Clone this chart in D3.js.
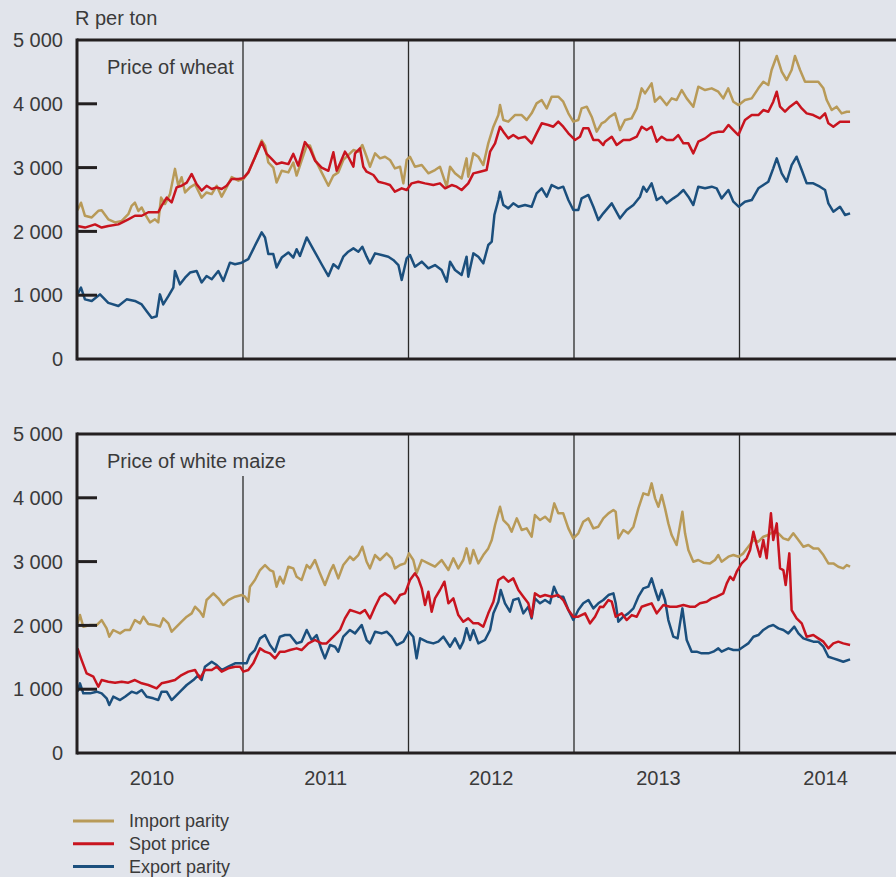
<!DOCTYPE html>
<head>
  <meta charset="UTF-8">
  <title>Wheat and white maize prices</title>
  <style>
  body, html, svg{
    padding: 0;
    margin: 0;
  }
  body{
    background: #e1e4eb;
  }
  svg{
    display: block;
  }
  text{
    font-family: "Liberation Sans", Arial, sans-serif;
    fill: #3a3a3a;
  }
  </style>
</head>
<body>
  <script src="https://cdn.jsdelivr.net/npm/d3@7/dist/d3.min.js"></script>
  <script type="text/javascript">
  // 数据: [decimal year, R per ton]
  var wheatImport = [[2010.000,2330],[2010.021,2450],[2010.045,2245],[2010.086,2218],[2010.126,2323],[2010.146,2330],[2010.186,2190],[2010.227,2140],[2010.267,2165],[2010.307,2270],[2010.327,2400],[2010.347,2450],[2010.368,2320],[2010.388,2375],[2010.408,2270],[2010.438,2140],[2010.468,2190],[2010.488,2140],[2010.505,2530],[2010.529,2430],[2010.559,2585],[2010.589,2980],[2010.609,2715],[2010.629,2850],[2010.650,2610],[2010.680,2690],[2010.710,2740],[2010.750,2530],[2010.780,2610],[2010.811,2585],[2010.841,2715],[2010.871,2545],[2010.901,2690],[2010.932,2850],[2010.972,2795],[2011.002,2820],[2011.032,2925],[2011.072,3160],[2011.113,3425],[2011.133,3345],[2011.153,3080],[2011.183,3000],[2011.203,2765],[2011.234,2950],[2011.274,2925],[2011.304,3080],[2011.324,2875],[2011.354,3110],[2011.385,3345],[2011.405,3345],[2011.435,3130],[2011.475,2925],[2011.516,2715],[2011.546,2875],[2011.576,2925],[2011.606,3120],[2011.636,3197],[2011.667,3275],[2011.697,3250],[2011.721,3354],[2011.747,3170],[2011.767,3014],[2011.798,3223],[2011.828,3145],[2011.858,3170],[2011.888,3120],[2011.918,2988],[2011.949,3014],[2011.969,2753],[2011.989,3120],[2012.009,3170],[2012.039,3014],[2012.080,3040],[2012.120,2910],[2012.160,2962],[2012.190,3014],[2012.231,2700],[2012.251,3014],[2012.281,2910],[2012.321,2830],[2012.351,3145],[2012.361,2857],[2012.392,3223],[2012.422,3170],[2012.452,3040],[2012.482,3380],[2012.513,3641],[2012.543,3824],[2012.553,3980],[2012.573,3746],[2012.603,3720],[2012.643,3824],[2012.684,3824],[2012.714,3746],[2012.744,3850],[2012.774,4007],[2012.805,4059],[2012.835,3928],[2012.865,4111],[2012.905,4111],[2012.935,4033],[2012.966,3850],[2012.996,3720],[2013.026,3746],[2013.046,3928],[2013.077,3955],[2013.107,3798],[2013.137,3563],[2013.167,3694],[2013.187,3720],[2013.217,3798],[2013.248,3850],[2013.278,3589],[2013.308,3746],[2013.348,3772],[2013.379,3928],[2013.409,4242],[2013.429,4164],[2013.469,4320],[2013.489,4033],[2013.520,4111],[2013.560,3980],[2013.590,4085],[2013.620,4059],[2013.651,4216],[2013.681,4085],[2013.721,3955],[2013.751,4268],[2013.792,4216],[2013.832,4242],[2013.872,4190],[2013.902,4085],[2013.932,4242],[2013.963,4033],[2013.995,3980],[2014.033,4059],[2014.074,4085],[2014.114,4242],[2014.144,4346],[2014.174,4294],[2014.194,4529],[2014.225,4750],[2014.255,4503],[2014.285,4373],[2014.315,4529],[2014.335,4750],[2014.366,4529],[2014.396,4346],[2014.436,4346],[2014.476,4346],[2014.507,4242],[2014.527,4059],[2014.557,3902],[2014.587,3955],[2014.617,3850],[2014.648,3876],[2014.668,3876]];

  var wheatSpot = [[2010.000,2085],[2010.045,2060],[2010.106,2110],[2010.146,2060],[2010.186,2085],[2010.247,2110],[2010.307,2190],[2010.347,2245],[2010.388,2245],[2010.428,2300],[2010.488,2300],[2010.508,2400],[2010.539,2530],[2010.569,2455],[2010.599,2690],[2010.629,2715],[2010.660,2765],[2010.690,2900],[2010.720,2740],[2010.750,2640],[2010.780,2715],[2010.811,2665],[2010.841,2690],[2010.871,2665],[2010.901,2715],[2010.932,2820],[2010.972,2820],[2011.002,2835],[2011.032,2925],[2011.072,3160],[2011.113,3400],[2011.143,3215],[2011.173,3135],[2011.203,3055],[2011.234,3080],[2011.274,3055],[2011.304,3215],[2011.334,3030],[2011.374,3400],[2011.405,3295],[2011.435,3110],[2011.475,3000],[2011.516,2950],[2011.546,3240],[2011.566,2950],[2011.586,3066],[2011.616,3250],[2011.636,3170],[2011.667,3014],[2011.677,3223],[2011.707,3302],[2011.727,3014],[2011.747,2936],[2011.788,2884],[2011.818,2779],[2011.858,2753],[2011.888,2727],[2011.918,2623],[2011.959,2675],[2011.989,2649],[2012.019,2753],[2012.059,2779],[2012.100,2753],[2012.150,2727],[2012.190,2753],[2012.221,2675],[2012.261,2727],[2012.291,2701],[2012.321,2649],[2012.361,2753],[2012.392,2910],[2012.432,2936],[2012.472,2962],[2012.493,3250],[2012.523,3380],[2012.553,3641],[2012.573,3563],[2012.603,3458],[2012.633,3510],[2012.664,3458],[2012.704,3484],[2012.744,3380],[2012.774,3537],[2012.805,3694],[2012.845,3668],[2012.875,3641],[2012.905,3720],[2012.935,3641],[2012.966,3537],[2013.006,3433],[2013.036,3484],[2013.056,3615],[2013.087,3615],[2013.117,3433],[2013.147,3433],[2013.177,3354],[2013.187,3406],[2013.228,3484],[2013.258,3354],[2013.298,3433],[2013.338,3433],[2013.379,3484],[2013.409,3641],[2013.439,3589],[2013.469,3641],[2013.500,3406],[2013.530,3484],[2013.560,3433],[2013.600,3433],[2013.630,3510],[2013.661,3380],[2013.691,3380],[2013.721,3223],[2013.751,3406],[2013.792,3458],[2013.832,3537],[2013.872,3563],[2013.902,3563],[2013.933,3668],[2013.963,3589],[2013.993,3510],[2014.033,3746],[2014.074,3824],[2014.114,3824],[2014.144,3902],[2014.174,3876],[2014.204,4033],[2014.225,4190],[2014.245,3955],[2014.275,3876],[2014.305,3955],[2014.345,4033],[2014.376,3928],[2014.406,3850],[2014.446,3824],[2014.486,3772],[2014.517,3850],[2014.537,3694],[2014.567,3641],[2014.607,3720],[2014.638,3720],[2014.668,3720]];

  var wheatExport = [[2010.000,1013],[2010.021,1120],[2010.045,935],[2010.086,910],[2010.136,1013],[2010.186,880],[2010.247,830],[2010.297,935],[2010.347,910],[2010.388,855],[2010.418,750],[2010.448,645],[2010.478,670],[2010.498,1013],[2010.518,855],[2010.549,985],[2010.579,1120],[2010.589,1380],[2010.619,1170],[2010.650,1275],[2010.680,1355],[2010.720,1380],[2010.750,1200],[2010.780,1300],[2010.811,1250],[2010.851,1380],[2010.881,1225],[2010.921,1510],[2010.952,1485],[2010.992,1510],[2011.032,1565],[2011.072,1775],[2011.113,1985],[2011.133,1905],[2011.153,1645],[2011.183,1645],[2011.203,1435],[2011.234,1590],[2011.274,1670],[2011.304,1590],[2011.324,1720],[2011.344,1615],[2011.385,1905],[2011.425,1720],[2011.475,1485],[2011.516,1300],[2011.546,1485],[2011.576,1421],[2011.606,1604],[2011.636,1682],[2011.667,1734],[2011.697,1682],[2011.721,1760],[2011.747,1604],[2011.767,1499],[2011.798,1656],[2011.838,1630],[2011.878,1604],[2011.908,1552],[2011.939,1473],[2011.959,1238],[2011.989,1578],[2012.009,1630],[2012.039,1447],[2012.080,1526],[2012.120,1421],[2012.160,1473],[2012.200,1395],[2012.231,1212],[2012.251,1526],[2012.281,1395],[2012.321,1317],[2012.351,1604],[2012.361,1290],[2012.392,1656],[2012.422,1604],[2012.452,1499],[2012.482,1787],[2012.503,1839],[2012.519,2257],[2012.543,2492],[2012.553,2623],[2012.573,2414],[2012.603,2361],[2012.633,2440],[2012.664,2387],[2012.704,2414],[2012.744,2387],[2012.774,2597],[2012.805,2675],[2012.835,2544],[2012.865,2727],[2012.905,2675],[2012.935,2701],[2012.966,2492],[2012.996,2335],[2013.026,2335],[2013.046,2518],[2013.087,2571],[2013.117,2387],[2013.147,2178],[2013.177,2283],[2013.228,2440],[2013.278,2205],[2013.318,2335],[2013.359,2414],[2013.399,2544],[2013.419,2701],[2013.439,2623],[2013.469,2753],[2013.500,2492],[2013.530,2544],[2013.560,2440],[2013.600,2518],[2013.630,2571],[2013.661,2649],[2013.691,2544],[2013.721,2414],[2013.751,2701],[2013.792,2675],[2013.832,2701],[2013.862,2675],[2013.892,2518],[2013.933,2649],[2013.963,2466],[2013.995,2387],[2014.033,2466],[2014.074,2492],[2014.114,2675],[2014.144,2727],[2014.174,2779],[2014.204,2988],[2014.225,3145],[2014.255,2910],[2014.285,2779],[2014.315,3040],[2014.345,3171],[2014.376,2962],[2014.406,2753],[2014.446,2753],[2014.486,2701],[2014.517,2649],[2014.537,2440],[2014.567,2309],[2014.607,2387],[2014.638,2257],[2014.668,2283]];

  var maizeImport = [[2010.000,2032],[2010.015,2162],[2010.035,1980],[2010.076,2006],[2010.116,2006],[2010.146,2084],[2010.176,1954],[2010.192,1823],[2010.216,1928],[2010.257,1875],[2010.287,1928],[2010.317,1928],[2010.347,2084],[2010.378,2032],[2010.398,2136],[2010.428,2021],[2010.468,2006],[2010.498,1980],[2010.518,2110],[2010.549,2032],[2010.569,1901],[2010.599,1980],[2010.629,2058],[2010.660,2136],[2010.690,2189],[2010.710,2293],[2010.740,2215],[2010.760,2136],[2010.780,2398],[2010.801,2450],[2010.821,2502],[2010.851,2424],[2010.881,2319],[2010.911,2398],[2010.952,2450],[2010.992,2476],[2011.012,2450],[2011.032,2372],[2011.042,2607],[2011.072,2711],[2011.103,2868],[2011.133,2946],[2011.163,2868],[2011.183,2842],[2011.203,2607],[2011.223,2763],[2011.244,2659],[2011.274,2920],[2011.304,2894],[2011.324,2763],[2011.354,2711],[2011.385,2946],[2011.405,2894],[2011.435,3025],[2011.465,2816],[2011.495,2633],[2011.526,2842],[2011.546,2946],[2011.576,2737],[2011.606,2946],[2011.646,3077],[2011.667,3025],[2011.697,3103],[2011.721,3233],[2011.747,2998],[2011.767,2894],[2011.798,3103],[2011.828,3025],[2011.868,3129],[2011.898,3051],[2011.918,2894],[2011.949,2946],[2011.979,2972],[2012.003,3129],[2012.029,3025],[2012.049,2816],[2012.080,3025],[2012.120,2972],[2012.160,2920],[2012.200,3025],[2012.241,2868],[2012.271,3051],[2012.301,2894],[2012.331,3025],[2012.351,3207],[2012.372,2972],[2012.392,3181],[2012.422,2972],[2012.452,3103],[2012.482,3207],[2012.503,3338],[2012.523,3573],[2012.553,3860],[2012.573,3651],[2012.603,3573],[2012.623,3469],[2012.654,3678],[2012.684,3495],[2012.714,3521],[2012.744,3390],[2012.764,3730],[2012.795,3651],[2012.825,3704],[2012.855,3625],[2012.881,3913],[2012.905,3756],[2012.935,3756],[2012.966,3521],[2012.996,3364],[2013.026,3443],[2013.056,3625],[2013.087,3678],[2013.117,3521],[2013.147,3547],[2013.177,3678],[2013.208,3756],[2013.238,3808],[2013.252,3782],[2013.268,3364],[2013.298,3495],[2013.328,3443],[2013.359,3547],[2013.389,3834],[2013.419,4069],[2013.449,4043],[2013.469,4226],[2013.490,3991],[2013.510,3860],[2013.530,4043],[2013.550,3834],[2013.570,3599],[2013.590,3416],[2013.620,3260],[2013.641,3573],[2013.655,3782],[2013.671,3443],[2013.691,3181],[2013.721,2998],[2013.751,3025],[2013.782,2983],[2013.822,2972],[2013.852,3025],[2013.872,3103],[2013.892,2998],[2013.933,3077],[2013.963,3103],[2013.995,3077],[2014.023,3129],[2014.053,3233],[2014.084,3338],[2014.114,3312],[2014.144,3390],[2014.174,3416],[2014.204,3469],[2014.235,3443],[2014.265,3364],[2014.295,3338],[2014.325,3443],[2014.356,3338],[2014.386,3233],[2014.416,3260],[2014.446,3207],[2014.476,3207],[2014.507,3103],[2014.537,2972],[2014.567,2972],[2014.597,2920],[2014.627,2894],[2014.648,2946],[2014.668,2920]];

  var maizeSpot = [[2010.000,1640],[2010.025,1457],[2010.055,1248],[2010.096,1196],[2010.126,1039],[2010.146,1144],[2010.186,1118],[2010.227,1102],[2010.267,1118],[2010.307,1102],[2010.347,1144],[2010.388,1092],[2010.428,1066],[2010.478,1013],[2010.508,1092],[2010.549,1118],[2010.589,1144],[2010.629,1222],[2010.670,1275],[2010.710,1301],[2010.740,1170],[2010.770,1301],[2010.811,1301],[2010.841,1353],[2010.871,1275],[2010.911,1327],[2010.952,1353],[2010.982,1353],[2011.002,1275],[2011.032,1301],[2011.062,1405],[2011.103,1640],[2011.133,1588],[2011.163,1562],[2011.193,1483],[2011.223,1588],[2011.254,1588],[2011.284,1614],[2011.324,1640],[2011.354,1614],[2011.395,1718],[2011.435,1771],[2011.475,1718],[2011.505,1718],[2011.546,1823],[2011.586,1928],[2011.616,2110],[2011.646,2241],[2011.677,2215],[2011.707,2189],[2011.737,2241],[2011.767,2110],[2011.798,2293],[2011.828,2450],[2011.858,2502],[2011.888,2450],[2011.918,2346],[2011.949,2476],[2011.979,2502],[2012.009,2711],[2012.039,2816],[2012.059,2737],[2012.080,2581],[2012.100,2319],[2012.120,2528],[2012.140,2215],[2012.160,2424],[2012.190,2555],[2012.217,2685],[2012.241,2346],[2012.271,2424],[2012.301,2162],[2012.331,2058],[2012.361,2110],[2012.392,2032],[2012.422,2032],[2012.452,1980],[2012.482,2189],[2012.513,2372],[2012.543,2711],[2012.573,2763],[2012.603,2685],[2012.633,2737],[2012.664,2555],[2012.694,2450],[2012.724,2346],[2012.744,2136],[2012.764,2502],[2012.795,2450],[2012.825,2476],[2012.865,2450],[2012.905,2476],[2012.935,2398],[2012.966,2241],[2012.996,2136],[2013.026,2136],[2013.067,2189],[2013.097,2032],[2013.127,2136],[2013.157,2293],[2013.177,2290],[2013.208,2398],[2013.228,2372],[2013.252,2136],[2013.288,2189],[2013.318,2084],[2013.349,2162],[2013.379,2136],[2013.409,2293],[2013.439,2319],[2013.469,2346],[2013.500,2189],[2013.540,2319],[2013.580,2293],[2013.620,2293],[2013.661,2319],[2013.701,2293],[2013.731,2293],[2013.761,2346],[2013.802,2372],[2013.832,2424],[2013.862,2450],[2013.902,2502],[2013.923,2659],[2013.943,2763],[2013.963,2711],[2013.983,2842],[2014.013,2972],[2014.043,3051],[2014.064,3181],[2014.084,3469],[2014.104,3260],[2014.124,3077],[2014.144,3338],[2014.164,3051],[2014.190,3756],[2014.204,3338],[2014.225,3599],[2014.245,2894],[2014.265,2868],[2014.279,2633],[2014.301,3129],[2014.315,2241],[2014.345,2110],[2014.376,2032],[2014.406,1823],[2014.446,1849],[2014.476,1797],[2014.507,1745],[2014.537,1640],[2014.567,1718],[2014.597,1745],[2014.627,1718],[2014.668,1692]];

  var maizeExport = [[2010.000,961],[2010.015,1092],[2010.035,935],[2010.076,935],[2010.116,961],[2010.146,935],[2010.176,857],[2010.192,752],[2010.216,883],[2010.257,830],[2010.287,883],[2010.327,961],[2010.357,935],[2010.388,987],[2010.418,883],[2010.458,857],[2010.488,830],[2010.508,961],[2010.539,961],[2010.569,830],[2010.599,909],[2010.629,987],[2010.660,1066],[2010.700,1144],[2010.730,1222],[2010.750,1144],[2010.770,1353],[2010.811,1431],[2010.841,1379],[2010.871,1301],[2010.911,1353],[2010.952,1405],[2010.992,1405],[2011.022,1405],[2011.042,1536],[2011.072,1614],[2011.103,1797],[2011.133,1849],[2011.163,1692],[2011.193,1588],[2011.223,1823],[2011.254,1849],[2011.284,1849],[2011.324,1718],[2011.354,1744],[2011.385,1928],[2011.415,1771],[2011.445,1849],[2011.475,1614],[2011.495,1483],[2011.526,1692],[2011.556,1666],[2011.576,1588],[2011.606,1823],[2011.646,1928],[2011.677,1875],[2011.717,2006],[2011.747,1771],[2011.767,1718],[2011.798,1901],[2011.838,1875],[2011.868,1901],[2011.898,1823],[2011.929,1692],[2011.969,1745],[2012.003,1901],[2012.029,1823],[2012.049,1483],[2012.070,1797],[2012.110,1745],[2012.150,1718],[2012.180,1745],[2012.211,1823],[2012.251,1666],[2012.281,1797],[2012.311,1640],[2012.331,1745],[2012.351,1954],[2012.372,1771],[2012.392,1928],[2012.422,1718],[2012.462,1771],[2012.493,1928],[2012.513,2189],[2012.543,2372],[2012.557,2555],[2012.583,2346],[2012.613,2215],[2012.633,2398],[2012.664,2424],[2012.694,2189],[2012.724,2293],[2012.744,2110],[2012.764,2424],[2012.795,2346],[2012.825,2398],[2012.855,2346],[2012.879,2607],[2012.905,2450],[2012.935,2450],[2012.966,2241],[2012.996,2084],[2013.026,2241],[2013.056,2346],[2013.087,2398],[2013.117,2267],[2013.147,2346],[2013.177,2398],[2013.208,2476],[2013.238,2502],[2013.252,2346],[2013.268,2058],[2013.298,2136],[2013.328,2189],[2013.359,2267],[2013.389,2450],[2013.419,2581],[2013.449,2607],[2013.469,2737],[2013.490,2555],[2013.510,2398],[2013.530,2555],[2013.550,2398],[2013.570,2084],[2013.600,1823],[2013.626,1797],[2013.655,2267],[2013.681,1771],[2013.711,1588],[2013.741,1588],[2013.771,1562],[2013.812,1562],[2013.842,1588],[2013.872,1640],[2013.892,1588],[2013.933,1640],[2013.963,1614],[2013.995,1614],[2014.023,1666],[2014.053,1718],[2014.084,1823],[2014.114,1849],[2014.144,1928],[2014.174,1980],[2014.204,2006],[2014.235,1954],[2014.265,1928],[2014.295,1875],[2014.331,1980],[2014.356,1875],[2014.386,1797],[2014.416,1771],[2014.446,1745],[2014.476,1745],[2014.507,1666],[2014.537,1509],[2014.567,1483],[2014.597,1457],[2014.627,1431],[2014.668,1468]];

  var years = [2010, 2011, 2012, 2013, 2014];
  var yearLabelAt = [2010.45, 2011.5, 2012.5, 2013.51, 2014.52];
  var yTicks = [0, 1000, 2000, 3000, 4000, 5000];
  var seriesNames = ['Import parity', 'Spot price', 'Export parity'];
  var seriesColors = ['#b89a58', '#c8141f', '#1b4f7d'];

  var panels = [
    { title: 'Price of wheat', top: 40, lines: [wheatImport, wheatSpot, wheatExport] },
    { title: 'Price of white maize', top: 434, lines: [maizeImport, maizeSpot, maizeExport] }
  ];

  var width = 896, height = 877;
  var left = 77, plotH = 319;

  var svg = d3.select('body')
    .append('svg')
    .attr('width', width)
    .attr('height', height);

  var x = d3.scaleLinear().domain([2010, 2015]).range([77.5, 905]);
  var fmt = d3.formatLocale({ decimal: '.', thousands: ' ', grouping: [3], currency: ['', ''] }).format(',');

  var line = d3.line()
    .x(function(d){ return x(d[0]); })
    .y(function(d){ return d[1]; });

  svg.append('text')
    .attr('x', 75)
    .attr('y', 25)
    .style('font-size', '20px')
    .text('R per ton');

  panels.forEach(function(p){
    var y = d3.scaleLinear().domain([0, 5000]).range([p.top + plotH, p.top]);
    var g = svg.append('g');

    var title = g.append('text')
      .attr('x', 107)
      .attr('y', p.top + 34)
      .style('font-size', '20px')
      .text(p.title);
    var tb = title.node().getBBox();

    //年份分隔线
    years.slice(1).forEach(function(yr){
      var xx = x(yr);
      var y0 = p.top;
      if(xx > tb.x - 3 && xx < tb.x + tb.width + 3) y0 = tb.y + tb.height + 4;
      g.append('line')
        .attr('x1', xx).attr('x2', xx)
        .attr('y1', y0).attr('y2', p.top + plotH)
        .attr('stroke', '#2a2a2a')
        .attr('stroke-width', 1.3);
    });

    //折线
    var order = [2, 0, 1];
    order.forEach(function(i){
      g.append('path')
        .datum(p.lines[i].map(function(d){ return [d[0], y(d[1])]; }))
        .attr('d', line)
        .attr('fill', 'none')
        .attr('stroke', seriesColors[i])
        .attr('stroke-width', 2.5)
        .attr('stroke-linejoin', 'round');
    });

    //坐标轴框
    g.append('line')
      .attr('x1', left).attr('x2', width)
      .attr('y1', y(5000)).attr('y2', y(5000))
      .attr('stroke', '#231f20').attr('stroke-width', 3);
    g.append('line')
      .attr('x1', left).attr('x2', width)
      .attr('y1', y(0)).attr('y2', y(0))
      .attr('stroke', '#231f20').attr('stroke-width', 3);
    g.append('line')
      .attr('x1', left).attr('x2', left)
      .attr('y1', y(5000) - 1.5).attr('y2', y(0) + 1.5)
      .attr('stroke', '#231f20').attr('stroke-width', 3);

    yTicks.forEach(function(v){
      if(v > 0 && v < 5000){
        g.append('line')
          .attr('x1', left).attr('x2', left + 20)
          .attr('y1', y(v)).attr('y2', y(v))
          .attr('stroke', '#231f20').attr('stroke-width', 3);
      }
      g.append('text')
        .attr('x', 63)
        .attr('y', y(v))
        .attr('dy', '0.36em')
        .attr('text-anchor', 'end')
        .style('font-size', '20px')
        .text(fmt(v));
    });
  });

  //年份
  svg.selectAll('.year')
    .data(years)
    .enter()
    .append('text')
    .attr('class', 'year')
    .attr('x', function(d, i){ return x(yearLabelAt[i]); })
    .attr('y', 785)
    .attr('text-anchor', 'middle')
    .style('font-size', '20px')
    .text(function(d){ return d; });

  //图例
  var legend = svg.selectAll('.legend')
    .data(seriesNames)
    .enter()
    .append('g')
    .attr('class', 'legend')
    .attr('transform', function(d, i){ return 'translate(0,' + (821 + i * 22.7) + ')'; });
  legend.append('line')
    .attr('x1', 73).attr('x2', 114)
    .attr('stroke', function(d, i){ return seriesColors[i]; })
    .attr('stroke-width', 3);
  legend.append('text')
    .attr('x', 129)
    .attr('dy', '0.36em')
    .style('font-size', '18px')
    .text(function(d){ return d; });
  </script>
</body>
</html>
